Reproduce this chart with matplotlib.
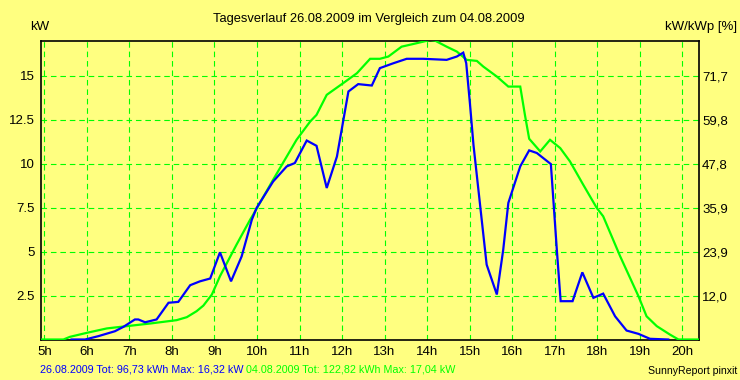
import matplotlib
matplotlib.use("Agg")
import matplotlib.pyplot as plt

plt.rcParams['font.family'] = ['Liberation Sans', 'DejaVu Sans']

# 04.08.2009 (green) - time [h], power [kW]
green_t = [4.90, 5.45, 5.60, 6.00, 6.47, 6.94, 7.49, 8.11, 8.35, 8.58, 8.74, 8.94,
           9.13, 9.52, 9.84, 9.91, 10.38, 10.70, 10.93, 11.25, 11.40, 11.64, 12.03,
           12.35, 12.66, 12.89, 13.09, 13.40, 13.76, 14.07, 14.19, 14.46, 14.70,
           14.93, 15.17, 15.32, 15.64, 15.91, 16.19, 16.30, 16.40, 16.66, 16.89,
           17.13, 17.36, 17.67, 17.99, 18.14, 18.54, 18.97, 19.16, 19.40, 19.71,
           19.91, 20.40]
green_kw = [0.0, 0.0, 0.15, 0.38, 0.63, 0.76, 0.91, 1.10, 1.27, 1.61, 1.93, 2.56,
            3.60, 5.40, 6.82, 7.10, 9.09, 10.41, 11.36, 12.40, 12.78, 13.92, 14.59,
            15.15, 15.97, 15.97, 16.10, 16.66, 16.86, 17.04, 17.00, 16.66, 16.38,
            15.91, 15.85, 15.53, 14.96, 14.39, 14.39, 12.78, 11.42, 10.70, 11.36,
            10.89, 10.13, 8.81, 7.48, 7.01, 4.73, 2.46, 1.32, 0.76, 0.28,
            0.0, 0.0]

# 26.08.2009 (blue)
blue_t = [5.64, 5.96, 6.27, 6.66, 6.86, 7.13, 7.21, 7.37, 7.64, 7.92, 8.15, 8.43,
          8.66, 8.90, 9.13, 9.39, 9.64, 9.88, 9.99, 10.38, 10.70, 10.89, 11.17,
          11.40, 11.64, 11.88, 12.15, 12.38, 12.70, 12.89, 13.21, 13.52, 13.91,
          14.46, 14.70, 14.85, 14.92, 15.01, 15.09, 15.40, 15.64, 15.79, 15.91,
          16.19, 16.40, 16.58, 16.91, 17.05, 17.14, 17.42, 17.65, 17.91, 18.14,
          18.42, 18.69, 18.97, 19.24, 19.67]
blue_kw = [0.0, 0.0, 0.19, 0.47, 0.72, 1.14, 1.14, 0.98, 1.14, 2.09, 2.14, 3.09,
           3.31, 3.47, 4.96, 3.31, 4.73, 6.82, 7.48, 8.99, 9.85, 10.04, 11.32,
           11.02, 8.62, 10.41, 14.11, 14.53, 14.45, 15.44, 15.72, 15.97, 15.97,
           15.91, 16.10, 16.32, 15.72, 13.35, 11.08, 4.26, 2.56, 5.11, 7.77,
           9.85, 10.76, 10.61, 9.98, 5.11, 2.18, 2.18, 3.82, 2.37, 2.61,
           1.32, 0.51, 0.32, 0.04, 0.0]

hours = list(range(5, 21))
hour_labels = [f"{h}h" for h in hours]
kw_ticks = [2.5, 5, 7.5, 10, 12.5, 15]
kw_labels = ["2.5", "5", "7.5", "10", "12.5", "15"]
pct_labels = ["12,0", "23,9", "35,9", "47,8", "59,8", "71,7"]

title = "Tagesverlauf 26.08.2009 im Vergleich zum 04.08.2009"
legend_blue = "26.08.2009 Tot: 96,73 kWh Max: 16,32 kW "
legend_green = "04.08.2009 Tot: 122,82 kWh Max: 17,04 kW"

BG = "#FFFF80"
GRID = "#00FF00"
BLUE = "#0000FF"
GREEN = "#00FF00"

fig = plt.figure(figsize=(7.4, 3.8), dpi=100, facecolor=BG)
ax = fig.add_axes([40.7/740, 1-339.5/380, (699.3-40.7)/740, (339.5-40.7)/380])
ax.set_facecolor(BG)
ax.set_xlim(4.915, 20.40)
ax.set_ylim(0, 17.0)

ax.set_xticks(hours)
ax.set_xticklabels(hour_labels)
ax.set_yticks(kw_ticks)
ax.set_yticklabels(kw_labels)
ax.tick_params(axis='both', length=0, labelsize=9.5, colors='black')
ax.tick_params(axis='x', pad=5)
ax.tick_params(axis='y', pad=4)
ax.grid(True, color=GRID, linestyle=(0, (5, 3.5)), linewidth=0.8)
ax.set_axisbelow(True)
for s in ax.spines.values():
    s.set_color('black')
    s.set_linewidth(1.2)

ax.plot(green_t, green_kw, color=GREEN, linewidth=1.6, solid_joinstyle='miter', zorder=3)
ax.plot(blue_t, blue_kw, color=BLUE, linewidth=1.6, solid_joinstyle='miter', zorder=4)

ax2 = ax.twinx()
ax2.set_ylim(ax.get_ylim())
ax2.set_yticks(kw_ticks)
ax2.set_yticklabels(pct_labels)
ax2.tick_params(axis='y', length=0, labelsize=9.5, pad=2)
for s in ax2.spines.values():
    s.set_visible(False)

fig.text(369/740, 1-19/380, title, ha='center', va='center', fontsize=9.3)
fig.text(40/740, 1-27/380, "kW", ha='center', va='center', fontsize=9.5)
fig.text(737/740, 1-27/380, "kW/kWp [%]", ha='right', va='center', fontsize=9.5)
fig.text(737/740, 1-371/380, "SunnyReport pinxit", ha='right', va='center', fontsize=7.6)

tb = fig.text(40/740, 1-369/380, legend_blue, ha='left', va='center', fontsize=7.75, color=BLUE)
fig.canvas.draw()
bb = tb.get_window_extent()
fig.text(bb.x1/740, 1-369/380, legend_green, ha='left', va='center', fontsize=7.75, color=GREEN)

fig.savefig("out.png", dpi=100, facecolor=BG)
